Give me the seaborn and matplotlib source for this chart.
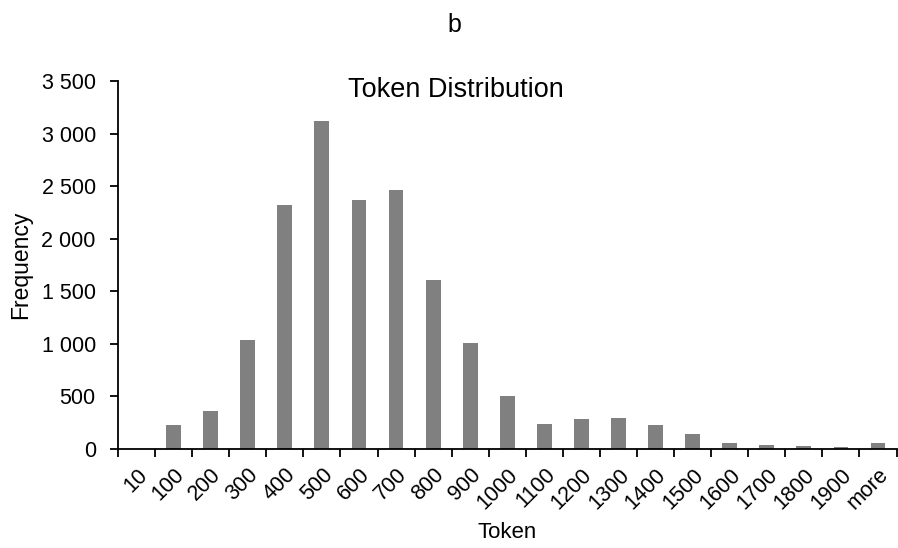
import matplotlib
matplotlib.use("Agg")
import matplotlib.pyplot as plt
import seaborn as sns
import numpy as np
from matplotlib.ticker import FuncFormatter, FixedLocator

# data
categories = ["10", "100", "200", "300", "400", "500", "600", "700", "800", "900", "1000",
              "1100", "1200", "1300", "1400", "1500", "1600", "1700", "1800", "1900", "more"]
frequency = [0, 225, 360, 1037, 2322, 3115, 2369, 2467, 1603, 1006, 503,
             234, 281, 290, 228, 142, 57, 34, 28, 19, 57]
y_ticks = [0, 500, 1000, 1500, 2000, 2500, 3000, 3500]


def thousands(v, pos):
    return f"{int(v):,}".replace(",", " ")


def main():
    sns.set_theme(style="white", rc={"axes.spines.right": False, "axes.spines.top": False})
    plt.rcParams["font.family"] = ["Liberation Sans", "DejaVu Sans"]

    fig = plt.figure(figsize=(8.98, 5.48), dpi=100)
    ax = fig.add_axes([0.1314, 0.1807, 0.867, 0.6715])

    sns.barplot(x=categories, y=frequency, order=categories, color="#808080",
                saturation=1, width=0.4, ax=ax, edgecolor="none")

    # axes styling
    for side in ["left", "bottom"]:
        ax.spines[side].set_color("black")
        ax.spines[side].set_linewidth(1.3)

    ax.set_xlim(-0.5, len(categories) - 0.5)
    ax.set_ylim(0, 3500)
    ax.yaxis.set_major_locator(FixedLocator(y_ticks))
    ax.yaxis.set_major_formatter(FuncFormatter(thousands))

    # tick marks between categories, labels under categories
    ax.set_xticks(np.arange(len(categories)))
    ax.set_xticklabels(categories, rotation=45, ha="right", rotation_mode="anchor")
    ax.set_xticks(np.arange(len(categories) + 1) - 0.5, minor=True)
    ax.tick_params(axis="x", which="major", length=0, pad=11, labelsize=15.5, colors="black")
    ax.tick_params(axis="x", which="minor", length=6, width=1.3, direction="out", bottom=True, color="black")
    ax.tick_params(axis="y", length=6, width=1.3, direction="out", left=True, pad=10,
                   labelsize=15.5, colors="black")

    ax.set_xlabel("Token", fontsize=16, color="black", va="top")
    ax.xaxis.set_label_coords(0.5, -0.198)
    ax.set_ylabel("Frequency", fontsize=16.5, color="black")
    ax.yaxis.set_label_coords(-0.110, 0.5)

    fig.text(0.508, 1 - 97 / 548, "Token Distribution", ha="center", va="baseline",
             fontsize=19.5, color="black")
    fig.text(0.506, 1 - 32 / 548, "b", ha="center", va="baseline", fontsize=18, color="black")

    fig.savefig("out.png", dpi=100)


if __name__ == "__main__":
    main()
